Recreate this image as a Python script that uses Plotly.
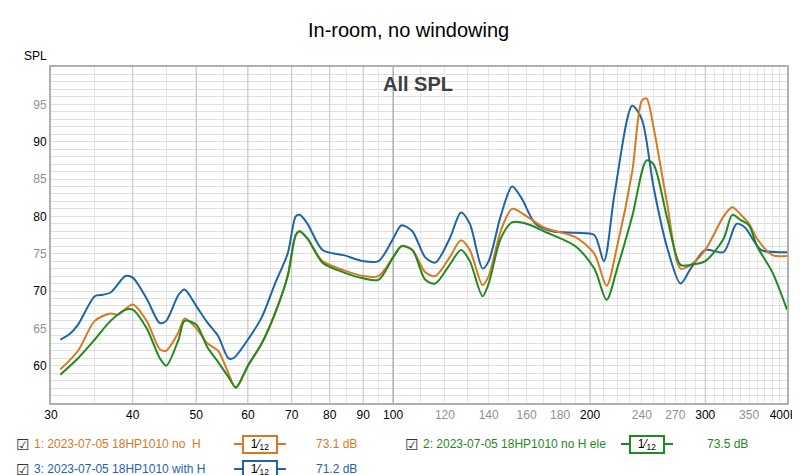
import plotly.graph_objects as go
import numpy as np

freq_blue = [31,32,33,35,36,37,39,40,42,44,45,47,48,50,52,54,56,57,60,63,66,69,71,72,74,78,84,90,95,100,103,107,112,116,122,127,131,137,140,146,152,157,165,175,190,203,210,218,232,240,250,262,275,285,300,320,335,345,365,390,400]
spl_blue = [63.5,64.2,65.5,69.3,69.5,69.8,72,71.8,69,65.7,66,69.5,70.2,68,65.8,64,61,61,63.5,66.5,71,75,80,80.2,79,75.5,74.8,74,74,77,78.8,78,74.5,73.8,77,80.5,79,73,74,80,84,82.5,79,78,77.8,77.5,74,83,94.8,93,84,76,71,73,75.5,75.2,79,78.5,75.5,75.2,75.2]

freq_orange = [31,33,35,37,38,40,42,44,45,47,48,50,52,54,56,57.5,60,63,66,69,71,72,74,78,84,90,95,100,103,107,112,116,122,127,131,137,140,146,152,160,170,190,203,212,220,232,240,244,250,262,275,285,300,320,330,340,350,360,380,400]
spl_orange = [59.5,62,66,67,66.8,68.2,66,62.2,62,64.5,66.3,65,63,62,59,57,60,63,67,72,77.5,78,77,74,72.8,72,72,74.5,76,75.5,72.5,72,74.5,76.8,75.5,70.8,72,78,81,80,78.5,77.2,75,70.7,76,86,95.5,95.8,92,82,73,73.5,75.5,80,81.2,80.2,79,77,74.8,74.7]

freq_green = [31,33,35,37,39,40,42,44,45,47,48,50,52,54,56,57.5,60,63,66,69,71,72,74,78,84,90,95,100,103,107,112,116,122,127,131,137,140,146,152,160,170,190,203,212,220,232,244,250,262,275,285,300,320,330,340,350,360,380,400]
spl_green = [58.8,61,63.5,66,67.5,67.5,65,61,60,63.5,66,65.5,62.5,60.5,58.5,57.1,60,63,67,72,77.5,78,77,73.8,72.5,71.7,71.5,74.5,76,75.5,71.5,71,73.5,75.5,74,69.3,71,77,79.2,79,78,76,73,68.8,73,80,87.5,87,80,73.5,73.5,74,77,80.2,79.5,78.8,76,72.5,67.5]

x_major = [40,50,60,70,80,90,100,200,300]
x_labels = [30,40,50,60,70,80,90,100,120,140,160,180,200,240,270,300,350,400]
x_gray = [120,140,160,180,240,270,350]
y_labels = [60,65,70,75,80,85,90,95]

ORANGE = "#d9781f"; GREEN = "#1f8a1f"; BLUE = "#1d64a8"
L, R, T, B = 43, 779, 59, 395
PW, PH = R - L, B - T

def px(x):
    return (x - L) / PW

def py(y):
    return (B - y) / PH

fig = go.Figure()
for xm in x_major:
    fig.add_trace(go.Scatter(x=[xm, xm], y=[55, 100], mode="lines",
                             line=dict(color="#909090" if xm == 100 else "#c4c4c4", width=1),
                             hoverinfo="skip", showlegend=False))
for f, s, c in [(freq_blue, spl_blue, BLUE), (freq_orange, spl_orange, ORANGE), (freq_green, spl_green, GREEN)]:
    fig.add_trace(go.Scatter(x=f, y=s, mode="lines", line=dict(color=c, width=2, shape="spline", smoothing=0.8),
                             showlegend=False))

minor_x = list(range(30, 100, 5)) + list(range(100, 401, 10))
ticktext = []
tickvals = []
for v in sorted(set(minor_x + x_labels)):
    tickvals.append(v)
    if v in x_labels:
        t = str(v) if v != 400 else "400Hz"
        if v in x_gray:
            t = f"<span style='color:#909090'>{t}</span>"
        ticktext.append(t)
    else:
        ticktext.append("")

fig.update_xaxes(type="log", range=[np.log10(30), np.log10(400)], tickvals=tickvals, ticktext=ticktext,
                 gridcolor="#e6e6e6", showline=True, linecolor="#b0b0b0", linewidth=2, mirror=True,
                 ticks="", automargin=False,
                 tickfont=dict(family="Liberation Sans", size=12, color="black"), zeroline=False)
ytv = list(range(55, 101))
ytt = []
for v in ytv:
    if v in y_labels:
        ytt.append(str(v) if v % 10 == 0 else f"<span style='color:#909090'>{v}</span>")
    else:
        ytt.append("")
fig.update_yaxes(range=[55, 100], tickvals=ytv, ticktext=ytt, gridcolor="#e0e0e0",
                 showline=True, linecolor="#b0b0b0", linewidth=2, mirror=True, ticks="", automargin=False,
                 tickfont=dict(family="Liberation Sans", size=12, color="black"), zeroline=False)

ann = [
    dict(text="In-room, no windowing", x=px(400), y=py(22), xref="paper", yref="paper", showarrow=False,
         font=dict(size=20, color="black", family="Liberation Sans"), xanchor="center", yanchor="middle"),
    dict(text="SPL", x=px(14), y=py(48), xref="paper", yref="paper", showarrow=False,
         font=dict(size=12, color="black"), xanchor="left", yanchor="middle"),
    dict(text="<b>All SPL</b>", x=px(410), y=py(76), xref="paper", yref="paper", showarrow=False,
         font=dict(size=20, color="#404040", family="Liberation Sans"), xanchor="center", yanchor="middle"),
]
legend_items = [
    (6, 436, "1: 2023-07-05 18HP1010 no  H", ORANGE, 252, 306, "73.1 dB"),
    (395, 436, "2: 2023-07-05 18HP1010 no H ele", GREEN, 639, 697, "73.5 dB"),
    (6, 461, "3: 2023-07-05 18HP1010 with H", BLUE, 252, 306, "71.2 dB"),
]
shapes = []
for (x0, yy, name, col, bx, dbx, db) in legend_items:
    ann.append(dict(text="☑", x=px(x0), y=py(yy), xref="paper", yref="paper", showarrow=False,
                    font=dict(size=15, color="#333"), xanchor="left", yanchor="middle"))
    ann.append(dict(text=name, x=px(x0 + 18), y=py(yy), xref="paper", yref="paper", showarrow=False,
                    font=dict(size=12, color=col, family="Liberation Sans"), xanchor="left", yanchor="middle"))
    shapes.append(dict(type="line", xref="paper", yref="paper", x0=px(bx - 26), x1=px(bx + 26),
                       y0=py(yy), y1=py(yy), line=dict(color=col, width=2)))
    ann.append(dict(text="1⁄<sub>12</sub>", x=px(bx), y=py(yy), xref="paper", yref="paper", showarrow=False,
                    font=dict(size=12, color="black"), xanchor="center", yanchor="middle",
                    bordercolor=col, borderwidth=2, bgcolor="white", borderpad=0, width=32, height=15))
    ann.append(dict(text=db, x=px(dbx), y=py(yy), xref="paper", yref="paper", showarrow=False,
                    font=dict(size=12, color=col, family="Liberation Sans"), xanchor="left", yanchor="middle"))

fig.update_layout(width=800, height=475, margin=dict(l=L, r=800 - R, t=T, b=475 - B),
                  paper_bgcolor="white", plot_bgcolor="white", annotations=ann, shapes=shapes,
                  font=dict(family="Liberation Sans"))
fig.write_html("out.html")
